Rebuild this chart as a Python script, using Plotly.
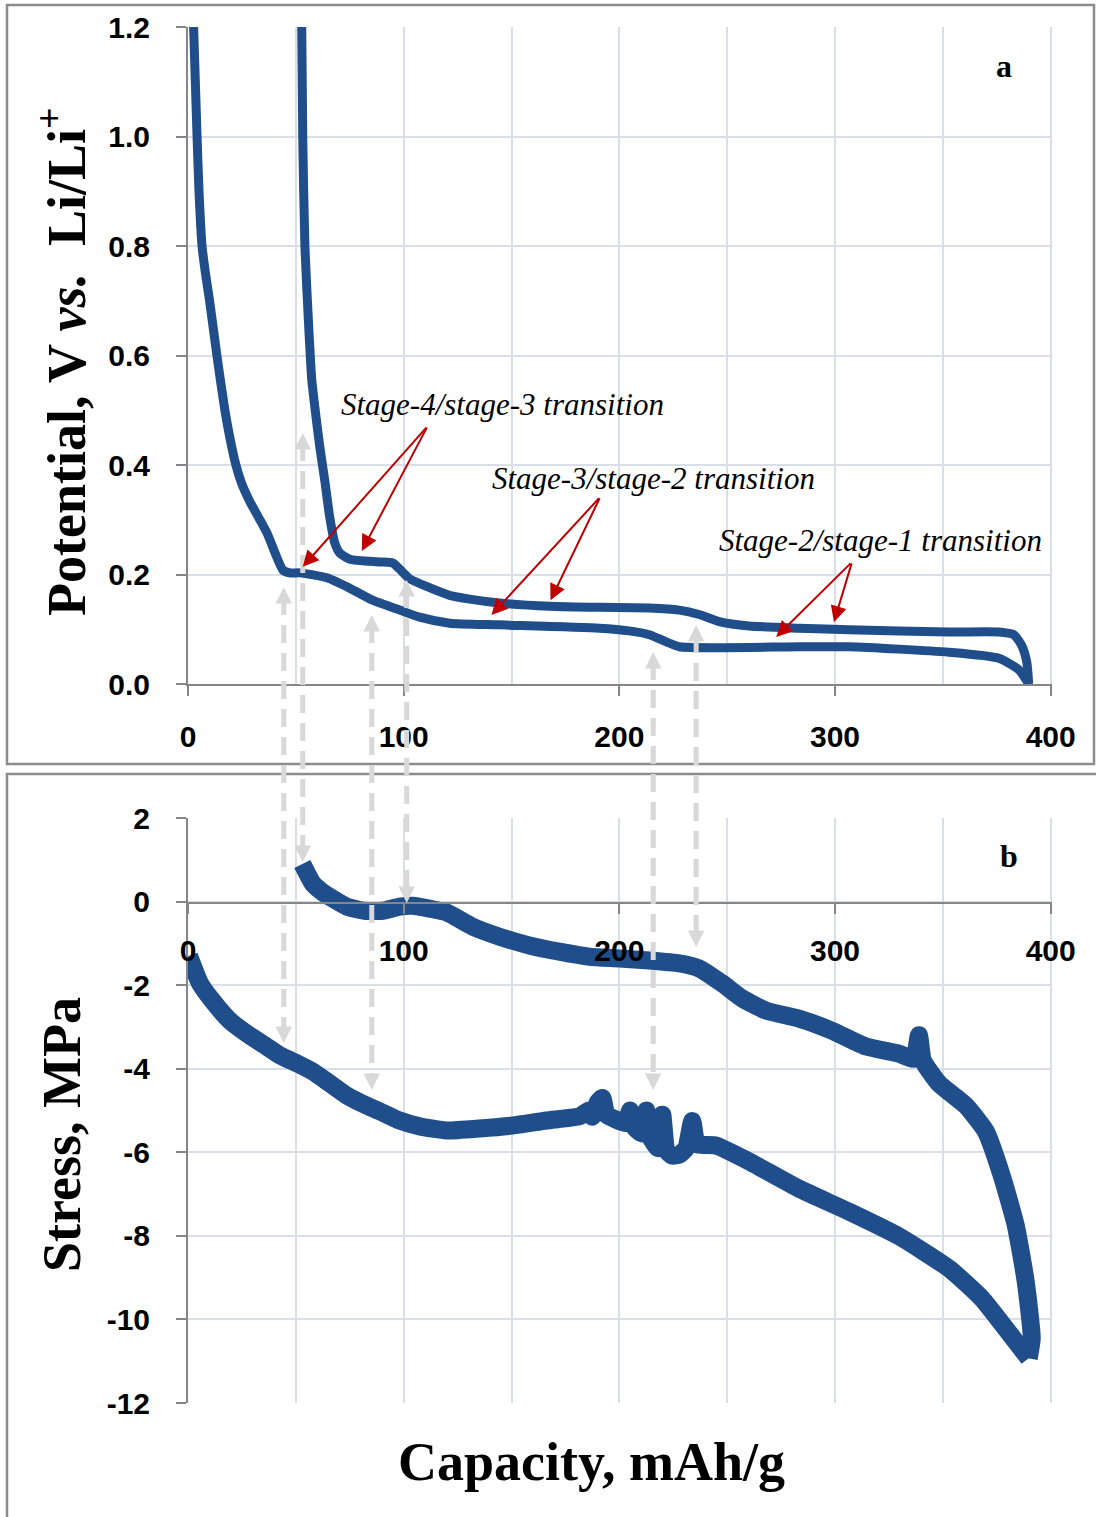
import plotly.graph_objects as go

# ---------------- data ----------------
# Panel a: potential vs capacity
cap_lithiation = [1.8, 4.2, 5.1, 6.5, 8.1, 10.0, 13.4, 17.1, 19.4, 22.2, 25.0, 28.7, 36.6, 40.7, 44.0, 47.2, 51.9,
                  64.4, 75.0, 85.6, 98.1, 107.4, 121.3, 144.4, 190.7, 204.6, 213.9, 221.8, 227.8,
                  283.3, 306.5, 352.8, 375.9, 385.2, 389.8]
pot_lithiation = [1.30, 1.00, 0.90, 0.80, 0.75, 0.70, 0.60, 0.50, 0.45, 0.40, 0.365, 0.333, 0.276, 0.236, 0.208,
                  0.203, 0.203,
                  0.194, 0.175, 0.153, 0.135, 0.122, 0.111, 0.108, 0.102, 0.097, 0.090, 0.077, 0.068,
                  0.068, 0.068, 0.058, 0.047, 0.026, 0.0]

cap_delithiation = [52.5, 53.2, 54.2, 56.0, 57.4, 58.8, 61.1, 63.4, 65.7, 68.1, 70.4, 75.0, 88.9, 94.9,
                    98.1, 102.8, 112.0, 121.3, 130.6, 144.4, 167.6, 190.7, 213.9, 227.8, 237.0,
                    246.3, 260.2, 283.3, 306.5, 352.8, 375.9, 382.9, 386.6, 388.9, 389.8]
pot_delithiation = [1.30, 1.00, 0.80, 0.65, 0.555, 0.506, 0.433, 0.372, 0.305, 0.257, 0.239, 0.228, 0.223, 0.221,
                    0.210, 0.192, 0.176, 0.162, 0.155, 0.148, 0.142, 0.140, 0.139, 0.135, 0.127,
                    0.114, 0.106, 0.102, 0.099, 0.095, 0.095, 0.090, 0.070, 0.040, 0.0]

# Panel b: stress vs capacity
cap_stress_lith = [0.5, 5.6, 11.6, 19.4, 27.3, 35.6, 42.6, 50.9, 57.9, 65.7, 73.6, 81.9, 88.9, 98.1,
                   107.4, 119.9, 135.2, 150.5, 166.2, 181.5, 186.0, 187.5, 190.0, 192.1, 194.0, 198.6,
                   203.0, 205.0, 207.0, 210.5, 212.5, 214.5, 218.0, 219.9, 221.8, 224.5, 228.0, 231.0,
                   233.8, 236.0, 244.9, 260.2, 283.3, 306.5, 329.6, 352.8, 368.1, 383.8, 389.8]
stress_lith = [-1.30, -1.96, -2.39, -2.85, -3.16, -3.44, -3.68, -3.88, -4.07, -4.35, -4.64, -4.86, -5.02, -5.24,
               -5.38, -5.48, -5.43, -5.36, -5.24, -5.14, -5.00, -5.15, -4.80, -4.70, -5.10, -5.22,
               -5.30, -5.00, -5.40, -5.55, -5.00, -5.65, -5.90, -5.10, -5.95, -6.08, -6.05, -5.90,
               -5.25, -5.80, -5.84, -6.22, -6.87, -7.42, -8.01, -8.78, -9.50, -10.53, -10.93]

cap_stress_delith = [53.0, 57.9, 62.0, 67.1, 73.6, 81.9, 90.3, 98.1, 104.2, 112.0, 119.9, 131.9, 144.4,
                     158.3, 172.2, 186.1, 200.0, 213.9, 227.8, 237.0, 247.7, 257.0, 268.0, 283.3, 298.6,
                     314.4, 329.6, 336.6, 338.9, 340.7, 348.1, 360.6, 369.9, 377.3, 383.8, 388.4, 391.2, 389.8]
stress_delith = [0.90, 0.43, 0.24, 0.07, -0.12, -0.22, -0.22, -0.12, -0.10, -0.17, -0.26, -0.60, -0.84,
                 -1.05, -1.20, -1.32, -1.36, -1.41, -1.48, -1.60, -1.96, -2.32, -2.61, -2.80, -3.09,
                 -3.47, -3.64, -3.76, -3.20, -3.80, -4.35, -4.88, -5.50, -6.56, -7.75, -9.09, -10.45, -10.93]

# transition markers (capacity, mAh/g)
transition_caps = [44.4, 53.2, 85.2, 101.4, 215.7, 235.6]

# tick labels
cap_tick_vals = [0, 100, 200, 300, 400]
cap_tick_text = ["0", "100", "200", "300", "400"]
pot_tick_vals = [0.0, 0.2, 0.4, 0.6, 0.8, 1.0, 1.2]
pot_tick_text = ["0.0", "0.2", "0.4", "0.6", "0.8", "1.0", "1.2"]
stress_tick_vals = [2, 0, -2, -4, -6, -8, -10, -12]
stress_tick_text = ["2", "0", "-2", "-4", "-6", "-8", "-10", "-12"]

# ---------------- layout helpers ----------------
W, H = 1096, 1517


def fx(p):
    return p / W


def fy(p):
    return 1 - p / H


BLUE = "#1f4e8b"
RED = "#c00000"
GRAY_ARROW = "#d8d8d8"
GRID = "#dadee8"
AXIS = "#868686"

fig = go.Figure()

fig.add_trace(go.Scatter(x=cap_lithiation, y=pot_lithiation, mode="lines",
                         line=dict(color=BLUE, width=9, shape="spline", smoothing=0.6),
                         xaxis="x", yaxis="y", showlegend=False))
fig.add_trace(go.Scatter(x=cap_delithiation, y=pot_delithiation, mode="lines",
                         line=dict(color=BLUE, width=9, shape="spline", smoothing=0.6),
                         xaxis="x", yaxis="y", showlegend=False))
fig.add_trace(go.Scatter(x=cap_stress_lith, y=stress_lith, mode="lines",
                         line=dict(color=BLUE, width=18, shape="spline", smoothing=0.5),
                         xaxis="x2", yaxis="y2", showlegend=False))
fig.add_trace(go.Scatter(x=cap_stress_delith, y=stress_delith, mode="lines",
                         line=dict(color=BLUE, width=18, shape="spline", smoothing=0.5),
                         xaxis="x2", yaxis="y2", showlegend=False))

tickfont = dict(family="Liberation Sans", size=30, color="black", weight="bold")
xdom = [fx(188), fx(1052)]

common_x = dict(range=[0, 400.6], domain=xdom, tickvals=cap_tick_vals, ticktext=cap_tick_text,
                showgrid=True, gridcolor=GRID, gridwidth=1.5,
                minor=dict(dtick=50, tick0=0, showgrid=True, gridcolor=GRID, gridwidth=1.5),
                showline=True, linecolor=AXIS, linewidth=2, ticks="outside", ticklen=10,
                tickcolor=AXIS, tickwidth=2, tickfont=tickfont, zeroline=False, automargin=False)

common_y = dict(showgrid=True, gridcolor=GRID, gridwidth=1.5, showline=True, linecolor=AXIS, linewidth=2,
                ticks="outside", ticklen=10, tickcolor=AXIS, tickwidth=2, tickfont=tickfont,
                ticklabelstandoff=20, zeroline=False, automargin=False)

fig.update_layout(
    width=W, height=H, margin=dict(l=0, r=0, t=0, b=0, pad=0, autoexpand=False),
    paper_bgcolor="white", plot_bgcolor="white",
    xaxis=dict(anchor="y", ticklabelstandoff=15, **common_x),
    yaxis=dict(range=[0, 1.2], domain=[fy(684), fy(27)], tickvals=pot_tick_vals, ticktext=pot_tick_text,
               **common_y),
    xaxis2=dict(anchor="free", position=fy(903), ticklabelstandoff=11, **common_x),
    yaxis2=dict(range=[-12, 2], domain=[fy(1403), fy(818)], tickvals=stress_tick_vals, ticktext=stress_tick_text,
                **common_y),
)

shapes = []
# panel frames
shapes.append(dict(type="rect", xref="paper", yref="paper", x0=fx(7), x1=fx(1094), y0=fy(764), y1=fy(5),
                   line=dict(color="#8c8c8c", width=2.5), fillcolor="rgba(0,0,0,0)", layer="below"))
shapes.append(dict(type="rect", xref="paper", yref="paper", x0=fx(7), x1=fx(1100), y0=fy(1525), y1=fy(774),
                   line=dict(color="#8c8c8c", width=2.5), fillcolor="rgba(0,0,0,0)", layer="below"))

# grey dashed transition lines: (top arrow tip px, bottom arrow tip px)
tips = [(587, 1043), (433, 862), (615, 1090), (580, 903), (652, 1090), (625, 947)]
annotations = []
for c, (t, b) in zip(transition_caps, tips):
    shapes.append(dict(type="line", xref="x", yref="paper", x0=c, x1=c, y0=fy(t + 10), y1=fy(b - 10),
                       line=dict(color=GRAY_ARROW, width=5, dash="18px,10px")))
    annotations.append(dict(x=c, y=fy(t), xref="x", yref="paper", ax=0, ay=18, text="", showarrow=True,
                            arrowhead=2, arrowsize=1.1, arrowwidth=3, arrowcolor=GRAY_ARROW))
    annotations.append(dict(x=c, y=fy(b), xref="x", yref="paper", ax=0, ay=-18, text="", showarrow=True,
                            arrowhead=2, arrowsize=1.1, arrowwidth=3, arrowcolor=GRAY_ARROW))

# red annotation arrows (origin, [heads]) in data coords of panel a
red_sets = [((111.1, 0.471), [(53.2, 0.214), (80.6, 0.243)]),
            ((191.2, 0.342), [(140.7, 0.126), (168.1, 0.153)]),
            ((307.9, 0.223), [(272.7, 0.086), (299.5, 0.113)])]
for (ox, oy), heads in red_sets:
    for hx, hy in heads:
        annotations.append(dict(x=hx, y=hy, xref="x", yref="y", ax=ox, ay=oy, axref="x", ayref="y",
                                text="", showarrow=True, arrowhead=2, arrowsize=1.6, arrowwidth=2,
                                arrowcolor=RED))

label_font = dict(family="Liberation Serif", size=31, color="black", style="italic")
annotations += [
    dict(x=145.8, y=0.5096, xref="x", yref="y", text="Stage-4/stage-3 transition", showarrow=False, font=label_font),
    dict(x=215.7, y=0.376, xref="x", yref="y", text="Stage-3/stage-2 transition", showarrow=False, font=label_font),
    dict(x=321.3, y=0.263, xref="x", yref="y", text="Stage-2/stage-1 transition", showarrow=False, font=label_font),
    dict(x=378.2, y=1.129, xref="x", yref="y", text="a", showarrow=False,
         font=dict(family="Liberation Serif", size=32, color="black", weight="bold")),
    dict(x=380.6, y=1.08, xref="x2", yref="y2", text="b", showarrow=False,
         font=dict(family="Liberation Serif", size=32, color="black", weight="bold")),
]

title_font = dict(family="Liberation Serif", size=54, color="black", weight="bold")
annotations += [
    dict(x=fx(62), y=fy(362), xref="paper", yref="paper", xanchor="center", yanchor="middle",
         text="Potential, V <i>vs.</i>  Li/Li<sup>+</sup>",
         textangle=-90, showarrow=False, font=title_font),
    dict(x=fx(62), y=fy(1135), xref="paper", yref="paper", xanchor="center", yanchor="middle",
         text="Stress, MPa", textangle=-90, showarrow=False, font=title_font),
    dict(x=fx(591), y=fy(1462), xref="paper", yref="paper", xanchor="center", yanchor="middle",
         text="Capacity, mAh/g", showarrow=False, font=title_font),
]

fig.update_layout(shapes=shapes, annotations=annotations)

fig.write_html("out.html", config={"displayModeBar": False},
               post_script="document.body.style.margin='0';")
